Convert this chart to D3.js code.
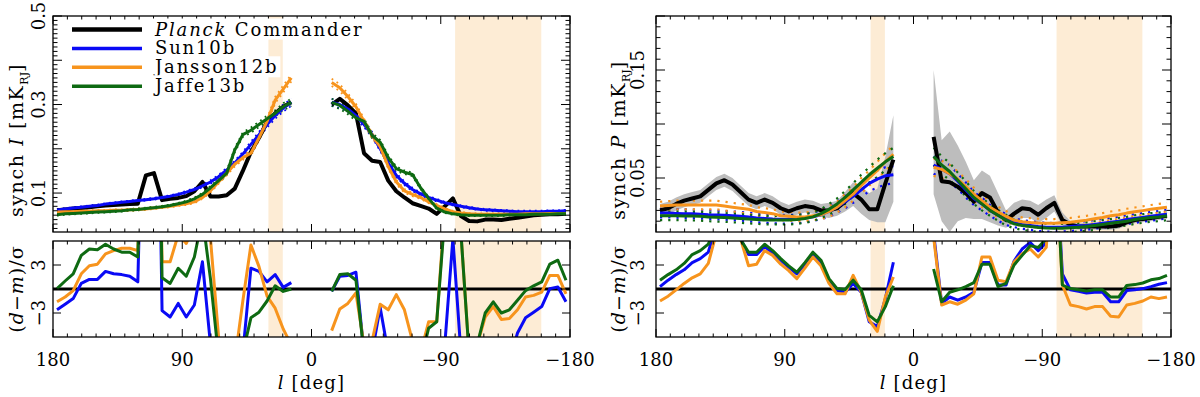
<!DOCTYPE html>
<html>
<head>
<meta charset="utf-8">
<script src="https://cdn.jsdelivr.net/npm/d3@7"></script>
<style>
  body { margin: 0; background: #fff; }
  text { font-family: "DejaVu Serif", serif; fill: #000; }
</style>
</head>
<body>
<svg id="chart" width="1200" height="397"></svg>
<script>
// galactic longitude bin centres (deg), 64 bins of 5.625 deg, plane bins left out
const lonBins = [177.19, 171.56, 165.94, 160.31, 154.69, 149.06, 143.44, 137.81, 132.19, 126.56,
  120.94, 115.31, 109.69, 104.06, 98.44, 92.81, 87.19, 81.56, 75.94, 70.31,
  64.69, 59.06, 53.44, 47.81, 42.19, 36.56, 30.94, 25.31, 19.69, 14.06,
  -14.06, -19.69, -25.31, -30.94, -36.56, -42.19, -47.81, -53.44, -59.06, -64.69,
  -70.31, -75.94, -81.56, -87.19, -92.81, -98.44, -104.06, -109.69, -115.31, -120.94,
  -126.56, -132.19, -137.81, -143.44, -149.06, -154.69, -160.31, -165.94, -171.56, -177.19];

// masked longitude ranges (shaded)
const maskRanges = [[20, 30], [-160, -100]];

// ---- synchrotron intensity [mK_RJ]
const planckI = [0.061, 0.063, 0.065, 0.066, 0.068, 0.070, 0.072, 0.073, 0.074, 0.075,
  0.076, 0.140, 0.145, 0.084, 0.087, 0.089, 0.093, 0.104, 0.125, 0.092,
  0.092, 0.095, 0.110, 0.150, 0.193, 0.225, 0.260, 0.280, 0.295, 0.305,
  0.300, 0.313, 0.298, 0.280, 0.190, 0.173, 0.170, 0.128, 0.104, 0.090,
  0.077, 0.071, 0.065, 0.053, 0.070, 0.088, 0.048, 0.037, 0.036, 0.040,
  0.040, 0.039, 0.042, 0.044, 0.047, 0.050, 0.051, 0.052, 0.052, 0.053];
const sun10bI = [0.062, 0.064, 0.066, 0.068, 0.070, 0.072, 0.075, 0.077, 0.079, 0.081,
  0.083, 0.085, 0.087, 0.090, 0.093, 0.097, 0.102, 0.108, 0.116, 0.125,
  0.137, 0.152, 0.168, 0.188, 0.210, 0.232, 0.255, 0.275, 0.292, 0.305,
  0.305, 0.300, 0.290, 0.275, 0.255, 0.232, 0.200, 0.168, 0.140, 0.122,
  0.108, 0.098, 0.090, 0.084, 0.078, 0.074, 0.070, 0.067, 0.064, 0.062,
  0.061, 0.060, 0.059, 0.058, 0.058, 0.058, 0.058, 0.059, 0.059, 0.060];
const jansson12bI = [0.057, 0.058, 0.058, 0.059, 0.059, 0.060, 0.060, 0.061, 0.061, 0.062,
  0.063, 0.064, 0.066, 0.068, 0.070, 0.073, 0.076, 0.080, 0.090, 0.105,
  0.125, 0.145, 0.165, 0.180, 0.190, 0.225, 0.262, 0.310, 0.335, 0.360,
  0.350, 0.338, 0.318, 0.295, 0.262, 0.230, 0.205, 0.160, 0.125, 0.105,
  0.097, 0.090, 0.080, 0.072, 0.064, 0.058, 0.055, 0.053, 0.052, 0.052,
  0.052, 0.052, 0.052, 0.052, 0.053, 0.053, 0.053, 0.054, 0.054, 0.054];
const jaffe13bI = [0.051, 0.053, 0.054, 0.055, 0.056, 0.057, 0.058, 0.059, 0.060, 0.062,
  0.063, 0.065, 0.067, 0.069, 0.072, 0.076, 0.080, 0.087, 0.097, 0.112,
  0.128, 0.145, 0.197, 0.232, 0.242, 0.255, 0.268, 0.280, 0.295, 0.305,
  0.305, 0.298, 0.285, 0.270, 0.262, 0.230, 0.215, 0.180, 0.155, 0.147,
  0.142, 0.112, 0.088, 0.066, 0.057, 0.053, 0.051, 0.050, 0.050, 0.050,
  0.050, 0.050, 0.051, 0.051, 0.051, 0.052, 0.052, 0.052, 0.053, 0.053];
// model scatter (galactic variance) on I
const modelErrI = [0.002, 0.002, 0.002, 0.002, 0.002, 0.002, 0.002, 0.002, 0.002, 0.002,
  0.002, 0.002, 0.002, 0.002, 0.002, 0.002, 0.003, 0.003, 0.003, 0.004,
  0.004, 0.005, 0.005, 0.005, 0.006, 0.006, 0.007, 0.007, 0.008, 0.008,
  0.008, 0.008, 0.007, 0.007, 0.006, 0.006, 0.005, 0.005, 0.005, 0.004,
  0.004, 0.003, 0.003, 0.003, 0.002, 0.002, 0.002, 0.002, 0.002, 0.002,
  0.002, 0.002, 0.002, 0.002, 0.002, 0.002, 0.002, 0.002, 0.002, 0.002];

// ---- residuals (d-m)/sigma on I
const sun10bResI = [-2.6, -1.9, -1.2, 0.7, 1.2, 1.2, 2.2, 1.9, 1.8, 1.6,
  0.9, 40, 60, -2.7, -3.5, -1.8, -3.5, -2.0, 3.4, -7,
  -9, -9, -9, -8, 2.6, 2.2, 0.9, 1.8, 0.2, 0.8,
  -0.3, 1.6, 1.7, 2.1, -8, -8, -2.3, -8, -9, -9,
  -9, -9, -9, -9, -7, 6.3, -8, -9, -9, -9,
  -9, -9, -9, -5.5, -3.6, -2.9, -2.2, 0.05, 0.25, -1.6];
const jansson12bResI = [-1.6, -1.0, -0.2, 1.9, 2.9, 3.1, 4.4, 4.8, 5.1, 5.1,
  4.8, 40, 60, 3.4, 3.4, 6.8, 5.7, 8, 8, 6.2,
  -6, -9, -9, -1.5, 5.5, 2.8, -0.9, -2.4, -5, -7,
  -5.2, -2.5, -1.8, -0.5, -7, -6.5, -1.9, -2.6, -0.7, -2.6,
  -6.5, -8, -4.1, -4.1, 10, 9, 7, -8, -7, -3.5,
  -2.2, -3.8, -3.7, -2.6, -1.0, -0.8, -0.4, 1.7, 1.7, -0.6];
const jaffe13bResI = [0.05, 1.0, 1.9, 4.2, 5.0, 4.9, 5.6, 5.0, 4.6, 4.6,
  4.0, 40, 60, 1.4, 0.7, 2.6, 1.6, 4.0, 9, 1.2,
  -8.5, -9, -9, -8, -3.6, -2.9, -1.5, 0.4, -0.3, 0.0,
  -0.3, 1.8, 1.9, 1.1, -8, -9, -9, -9, -9, -9,
  -9, -9, -4.9, -4.1, 9, 9, 7, -8, -7, -3.0,
  -1.6, -3.0, -2.6, -1.4, -0.2, 0.4, 0.9, 3.1, 3.6, 1.1];

// ---- synchrotron polarized intensity [mK_RJ]
const planckP = [0.020, 0.022, 0.026, 0.029, 0.031, 0.033, 0.039, 0.045, 0.048, 0.044,
  0.037, 0.030, 0.027, 0.030, 0.027, 0.022, 0.019, 0.022, 0.024, 0.023,
  0.020, 0.020, 0.022, 0.028, 0.036, 0.030, 0.021, 0.021, 0.045, 0.067,
  0.088, 0.047, 0.046, 0.042, 0.036, 0.028, 0.036, 0.032, 0.018, 0.011,
  0.017, 0.022, 0.021, 0.016, 0.022, 0.027, 0.011, 0.007, 0.005, 0.005,
  0.005, 0.005, 0.005, 0.006, 0.009, 0.011, 0.012, 0.013, 0.014, 0.015];
const planckPHi = [0.026, 0.028, 0.032, 0.035, 0.037, 0.039, 0.045, 0.051, 0.054, 0.050,
  0.043, 0.036, 0.033, 0.036, 0.033, 0.028, 0.025, 0.028, 0.030, 0.029,
  0.026, 0.027, 0.029, 0.037, 0.046, 0.042, 0.036, 0.040, 0.070, 0.108,
  0.150, 0.085, 0.093, 0.080, 0.065, 0.048, 0.057, 0.052, 0.036, 0.020,
  0.027, 0.030, 0.029, 0.025, 0.030, 0.034, 0.018, 0.010, 0.008, 0.008,
  0.008, 0.008, 0.008, 0.009, 0.012, 0.014, 0.015, 0.016, 0.017, 0.018];
const planckPLo = [0.014, 0.016, 0.020, 0.023, 0.025, 0.027, 0.033, 0.039, 0.042, 0.038,
  0.031, 0.024, 0.021, 0.024, 0.021, 0.016, 0.013, 0.016, 0.018, 0.017,
  0.014, 0.013, 0.015, 0.019, 0.024, 0.017, 0.011, 0.009, 0.009, 0.028,
  0.035, 0.010, 0.000, 0.010, 0.013, 0.012, 0.012, 0.009, 0.006, 0.004,
  0.008, 0.013, 0.013, 0.008, 0.013, 0.019, 0.006, 0.003, 0.002, 0.002,
  0.002, 0.002, 0.002, 0.003, 0.006, 0.008, 0.009, 0.010, 0.011, 0.012];
const sun10bP = [0.0175, 0.0175, 0.0172, 0.017, 0.0168, 0.0165, 0.016, 0.0157, 0.0155, 0.015,
  0.0145, 0.014, 0.013, 0.0125, 0.012, 0.0118, 0.0117, 0.012, 0.013, 0.014,
  0.016, 0.019, 0.023, 0.028, 0.033, 0.039, 0.045, 0.049, 0.052, 0.053,
  0.062, 0.058, 0.054, 0.047, 0.039, 0.031, 0.026, 0.020, 0.0155, 0.0115,
  0.0085, 0.007, 0.006, 0.005, 0.0045, 0.0043, 0.0045, 0.005, 0.0055, 0.006,
  0.007, 0.008, 0.009, 0.010, 0.0115, 0.0125, 0.0135, 0.0145, 0.0155, 0.0165];
const jansson12bP = [0.024, 0.0245, 0.025, 0.025, 0.025, 0.025, 0.025, 0.025, 0.024, 0.023,
  0.022, 0.021, 0.019, 0.018, 0.017, 0.015, 0.0145, 0.014, 0.014, 0.015,
  0.016, 0.019, 0.023, 0.029, 0.035, 0.043, 0.050, 0.057, 0.065, 0.072,
  0.060, 0.058, 0.054, 0.049, 0.042, 0.035, 0.029, 0.023, 0.0185, 0.0145,
  0.011, 0.0095, 0.0088, 0.0083, 0.008, 0.008, 0.0085, 0.009, 0.010, 0.011,
  0.0123, 0.0135, 0.015, 0.016, 0.0175, 0.0187, 0.0198, 0.021, 0.022, 0.023];
const jaffe13bP = [0.015, 0.015, 0.015, 0.0148, 0.0147, 0.0145, 0.014, 0.0137, 0.0135, 0.013,
  0.0125, 0.012, 0.0115, 0.011, 0.011, 0.011, 0.011, 0.0115, 0.0125, 0.014,
  0.017, 0.021, 0.026, 0.032, 0.039, 0.046, 0.053, 0.059, 0.065, 0.070,
  0.070, 0.062, 0.056, 0.048, 0.040, 0.032, 0.026, 0.020, 0.0155, 0.011,
  0.0075, 0.006, 0.005, 0.0042, 0.0037, 0.0034, 0.0035, 0.004, 0.0045, 0.005,
  0.006, 0.007, 0.008, 0.009, 0.010, 0.0115, 0.0125, 0.0135, 0.014, 0.015];
const modelErrP = [0.004, 0.004, 0.004, 0.004, 0.004, 0.004, 0.004, 0.004, 0.004, 0.004,
  0.004, 0.004, 0.004, 0.004, 0.004, 0.004, 0.004, 0.004, 0.004, 0.004,
  0.004, 0.005, 0.005, 0.006, 0.006, 0.007, 0.007, 0.008, 0.008, 0.008,
  0.008, 0.008, 0.008, 0.007, 0.007, 0.006, 0.006, 0.005, 0.005, 0.005,
  0.004, 0.004, 0.004, 0.004, 0.004, 0.004, 0.004, 0.004, 0.004, 0.004,
  0.004, 0.004, 0.004, 0.004, 0.004, 0.004, 0.004, 0.004, 0.004, 0.004];

// ---- residuals (d-m)/sigma on P
const sun10bResP = [0.3, 1.1, 1.8, 2.4, 3.3, 3.8, 4.6, 8, 9, 9,
  6.3, 4.3, 4.3, 5.3, 4.5, 3.6, 2.7, 1.9, 3.1, 4.4,
  3.35, 1.1, -0.2, -0.4, 0.7, -0.4, -4.1, -4.7, -1.2, 3.35,
  7, -1.8, -1.0, -1.4, -1.0, -0.4, 3.3, 3.3, 0.5, 0.5,
  3.5, 5.0, 5.8, 4.8, 5.8, 20, 1.9, -0.1, -0.3, -0.5,
  -0.4, -0.4, -1.6, -1.6, -0.2, -0.1, 0.05, 0.3, 0.6, 0.8];
const jansson12bResP = [-1.5, -0.9, -0.1, 0.7, 1.4, 1.9, 3.2, 7, 9, 9,
  6.3, 2.9, 3.1, 4.8, 4.2, 3.1, 2.3, 1.3, 2.6, 4.0,
  2.9, 0.7, -0.6, -0.6, 1.7, -0.4, -3.9, -5.3, -1.0, 1.5,
  6.5, -2.0, -1.6, -1.9, -1.4, -0.6, 4.0, 4.0, 1.1, 0.9,
  3.4, 4.4, 5.0, 4.0, 5.2, 20, 0.5, -2.0, -2.2, -2.5,
  -2.2, -2.2, -3.4, -3.5, -2.0, -1.8, -1.5, -1.0, -1.2, -1.0];
const jaffe13bResP = [1.1, 1.8, 2.4, 3.2, 4.3, 4.8, 5.6, 8, 9, 9,
  6.2, 4.6, 4.6, 5.6, 4.8, 3.8, 2.9, 2.1, 3.3, 4.6,
  3.6, 1.3, 0.05, -0.05, 1.1, -0.1, -3.3, -4.1, -2.2, 0.4,
  2.5, -1.6, -0.4, -0.1, 0.3, 0.8, 3.1, 3.1, 0.3, 0.7,
  3.0, 4.2, 5.4, 5.2, 6.3, 20, 0.5, 0.05, -0.1, -0.25,
  -0.1, -0.1, -1.0, -1.0, 0.45, 0.55, 0.75, 1.15, 1.3, 1.7];

const legendNames = ['Commander', 'Sun10b', 'Jansson12b', 'Jaffe13b'];
const xTickValues = [180, 90, 0, -90, -180];
const iTickLabels = [0.1, 0.3, 0.5];
const pTickLabels = [0.05, 0.15];
const resTickLabels = [3, -3];

const colors = { planck: '#000', sun: '#0a0af5', jansson: '#f7941d', jaffe: '#0e6a12' };
const maskFill = '#fdecd5';

const svg = d3.select('#chart');
const topBox = [16, 232], botBox = [241, 337];

// bins on each side of the plane
const idx = lonBins.map((d, i) => i);
const segments = [idx.filter(i => lonBins[i] > 0), idx.filter(i => lonBins[i] < 0)];

function fmtMinus(v) {
  return String(v).replace('-', '\u2212');
}

function drawPanel(cfg) {
  const x = d3.scaleLinear().domain([180, -180]).range([cfg.x0, cfg.x1]);
  const yTop = d3.scaleLinear().domain(cfg.topDomain).range([topBox[1], topBox[0]]);
  const yBot = d3.scaleLinear().domain([-6, 6]).range([botBox[1], botBox[0]]);

  const defs = svg.append('defs');
  [['top', topBox], ['bot', botBox]].forEach(([k, b]) => {
    defs.append('clipPath').attr('id', `${cfg.id}_${k}`)
      .append('rect')
      .attr('x', cfg.x0).attr('y', b[0])
      .attr('width', cfg.x1 - cfg.x0).attr('height', b[1] - b[0]);
  });

  const gTop = svg.append('g').attr('clip-path', `url(#${cfg.id}_top)`);
  const gBot = svg.append('g').attr('clip-path', `url(#${cfg.id}_bot)`);

  // masked regions
  [[gTop, topBox], [gBot, botBox]].forEach(([g, b]) => {
    maskRanges.forEach(r => {
      const xa = x(r[1]), xb = x(r[0]);
      g.append('rect').attr('x', xa).attr('y', b[0])
        .attr('width', xb - xa).attr('height', b[1] - b[0])
        .attr('fill', maskFill);
    });
  });

  // data band (Planck uncertainty)
  if (cfg.band) {
    const area = d3.area()
      .x(i => x(lonBins[i]))
      .y0(i => yTop(cfg.band[0][i]))
      .y1(i => yTop(cfg.band[1][i]));
    segments.forEach(seg => {
      gTop.append('path').attr('d', area(seg)).attr('fill', '#bdbdbd');
    });
  }

  // model scatter, dotted
  cfg.models.forEach(m => {
    [-1, 1].forEach(sgn => {
      const ln = d3.line().x(i => x(lonBins[i])).y(i => yTop(m.vals[i] + sgn * cfg.err[i]));
      segments.forEach(seg => {
        gTop.append('path').attr('d', ln(seg))
          .attr('fill', 'none').attr('stroke', m.color)
          .attr('stroke-width', cfg.dotW).attr('stroke-dasharray', cfg.dash);
      });
    });
  });

  // data line
  const lnTop = vals => d3.line().x(i => x(lonBins[i])).y(i => yTop(vals[i]));
  segments.forEach(seg => {
    gTop.append('path').attr('d', lnTop(cfg.data)(seg))
      .attr('fill', 'none').attr('stroke', colors.planck)
      .attr('stroke-width', 4).attr('stroke-linejoin', 'round');
  });
  cfg.models.forEach(m => {
    segments.forEach(seg => {
      gTop.append('path').attr('d', lnTop(m.vals)(seg))
        .attr('fill', 'none').attr('stroke', m.color)
        .attr('stroke-width', 3).attr('stroke-linejoin', 'round');
    });
  });

  // residuals
  gBot.append('line')
    .attr('x1', cfg.x0).attr('x2', cfg.x1)
    .attr('y1', yBot(0)).attr('y2', yBot(0))
    .attr('stroke', '#000').attr('stroke-width', 3);
  cfg.res.forEach(m => {
    const ln = d3.line().x(i => x(lonBins[i])).y(i => yBot(m.vals[i]));
    segments.forEach(seg => {
      gBot.append('path').attr('d', ln(seg))
        .attr('fill', 'none').attr('stroke', m.color)
        .attr('stroke-width', 3).attr('stroke-linejoin', 'round');
    });
  });

  // frames & ticks
  const axes = svg.append('g').attr('stroke', '#000');
  [topBox, botBox].forEach(b => {
    axes.append('rect').attr('x', cfg.x0).attr('y', b[0])
      .attr('width', cfg.x1 - cfg.x0).attr('height', b[1] - b[0])
      .attr('fill', 'none').attr('stroke-width', 1.3);
    d3.range(-180, 181, 10).forEach(v => {
      const len = v % 90 === 0 ? 8 : 3.5;
      const xv = x(v);
      axes.append('line').attr('x1', xv).attr('x2', xv).attr('y1', b[1]).attr('y2', b[1] - len).attr('stroke-width', 1);
      axes.append('line').attr('x1', xv).attr('x2', xv).attr('y1', b[0]).attr('y2', b[0] + len).attr('stroke-width', 1);
    });
  });
  const yTick = (v, len, yS) => {
    const yv = yS(v);
    axes.append('line').attr('x1', cfg.x0).attr('x2', cfg.x0 + len).attr('y1', yv).attr('y2', yv).attr('stroke-width', 1);
    axes.append('line').attr('x1', cfg.x1).attr('x2', cfg.x1 - len).attr('y1', yv).attr('y2', yv).attr('stroke-width', 1);
  };
  cfg.minorTicks.forEach(v => yTick(v, cfg.majorTest(v) ? 9 : 4.5, yTop));
  [-3, 0, 3].forEach(v => yTick(v, 8, yBot));

  // tick labels
  const labels = svg.append('g');
  cfg.topLabels.forEach(v => {
    labels.append('text')
      .attr('transform', `translate(${cfg.tickX},${yTop(v)}) rotate(-90)`)
      .attr('text-anchor', 'middle').attr('font-size', 18)
      .text(v);
  });
  resTickLabels.forEach(v => {
    labels.append('text')
      .attr('transform', `translate(${cfg.tickX},${yBot(v)}) rotate(-90)`)
      .attr('text-anchor', 'middle').attr('font-size', 18)
      .text(fmtMinus(v));
  });
  xTickValues.forEach(v => {
    labels.append('text')
      .attr('x', x(v)).attr('y', 366)
      .attr('text-anchor', 'middle').attr('font-size', 18)
      .text(fmtMinus(v));
  });

  // axis titles
  const xt = labels.append('text')
    .attr('x', x(0)).attr('y', 389)
    .attr('text-anchor', 'middle').attr('font-size', 18)
    .attr('letter-spacing', 1.2);
  xt.append('tspan').attr('font-style', 'italic').text('l');
  xt.append('tspan').text(' [deg]');

  const yt = labels.append('text')
    .attr('transform', `translate(${cfg.titleX},${(topBox[0] + topBox[1]) / 2 + 16}) rotate(-90)`)
    .attr('text-anchor', 'middle').attr('font-size', 19)
    .attr('letter-spacing', 1.6);
  yt.append('tspan').text('synch ');
  yt.append('tspan').attr('font-style', 'italic').text(cfg.quantity);
  yt.append('tspan').text(' [mK');
  yt.append('tspan').attr('font-size', 11).attr('dy', 5).attr('letter-spacing', 0).text('RJ');
  yt.append('tspan').attr('dy', -5).text(']');

  const rt = labels.append('text')
    .attr('transform', `translate(${cfg.titleX},${(botBox[0] + botBox[1]) / 2}) rotate(-90)`)
    .attr('text-anchor', 'middle').attr('font-size', 19)
    .attr('letter-spacing', 1);
  rt.append('tspan').text('(');
  rt.append('tspan').attr('font-style', 'italic').text('d');
  rt.append('tspan').text('\u2212');
  rt.append('tspan').attr('font-style', 'italic').text('m');
  rt.append('tspan').text(')/\u03c3');

  return x;
}

drawPanel({
  id: 'pI', x0: 53, x1: 570, tickX: 45, titleX: 23,
  topDomain: [0.012, 0.5], quantity: 'I',
  data: planckI,
  models: [
    { vals: sun10bI, color: colors.sun },
    { vals: jansson12bI, color: colors.jansson },
    { vals: jaffe13bI, color: colors.jaffe }
  ],
  err: modelErrI, dotW: 1.8, dash: '1.8,4',
  res: [
    { vals: sun10bResI, color: colors.sun },
    { vals: jansson12bResI, color: colors.jansson },
    { vals: jaffe13bResI, color: colors.jaffe }
  ],
  minorTicks: d3.range(2, 51).map(k => k / 100),
  majorTest: v => Math.round(v * 100) % 10 === 0,
  topLabels: iTickLabels
});

drawPanel({
  id: 'pP', x0: 656, x1: 1171, tickX: 644, titleX: 625,
  topDomain: [0, 0.2], quantity: 'P',
  data: planckP, band: [planckPLo, planckPHi],
  models: [
    { vals: sun10bP, color: colors.sun },
    { vals: jansson12bP, color: colors.jansson },
    { vals: jaffe13bP, color: colors.jaffe }
  ],
  err: modelErrP, dotW: 2.2, dash: '2.2,6',
  res: [
    { vals: sun10bResP, color: colors.sun },
    { vals: jansson12bResP, color: colors.jansson },
    { vals: jaffe13bResP, color: colors.jaffe }
  ],
  minorTicks: d3.range(1, 21).map(k => k / 100),
  majorTest: v => Math.round(v * 100) % 5 === 0,
  topLabels: pTickLabels
});

// legend (left panel)
const legendColors = [colors.planck, colors.sun, colors.jansson, colors.jaffe];
const legend = svg.append('g');
legendNames.forEach((name, k) => {
  const yl = 29.5 + 18.9 * k;
  const row = legend.append('g');
  const bg = row.append('rect').attr('fill', '#fff');
  row.append('line')
    .attr('x1', 72).attr('x2', 142).attr('y1', yl).attr('y2', yl)
    .attr('stroke', legendColors[k]).attr('stroke-width', k === 0 ? 4.5 : 3.5);
  const t = row.append('text')
    .attr('x', 155).attr('y', yl + 6)
    .attr('font-size', 18).attr('letter-spacing', 1.85);
  if (k === 0) {
    t.append('tspan').attr('font-style', 'italic').text('Planck');
    t.append('tspan').text(' ' + name);
  } else {
    t.text(name);
  }
  const bb = t.node().getBBox();
  bg.attr('x', bb.x - 2).attr('y', bb.y).attr('width', bb.width + 4).attr('height', bb.height);
});
</script>
</body>
</html>
